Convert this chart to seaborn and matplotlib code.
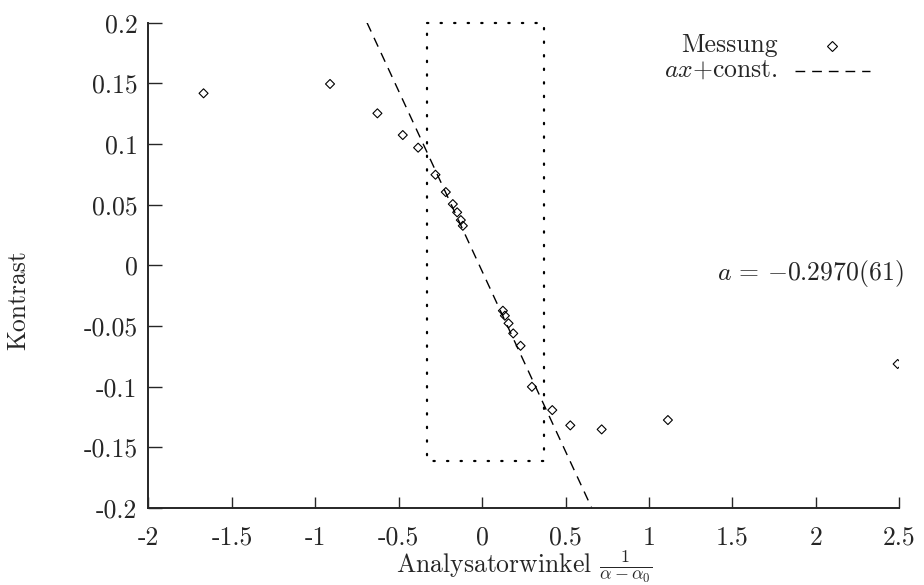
import matplotlib
matplotlib.use("Agg")
import numpy as np
import pandas as pd
import matplotlib.pyplot as plt
import seaborn as sns

x_mess = [-1.670, -0.912, -0.628, -0.476, -0.384, -0.280, -0.218, -0.176, -0.150, -0.128, -0.116,
          0.124, 0.136, 0.158, 0.186, 0.230, 0.298, 0.420, 0.528, 0.716, 1.113, 2.49]
y_mess = [0.1418, 0.1495, 0.1253, 0.1074, 0.0970, 0.0747, 0.0604, 0.0505, 0.0437, 0.0373, 0.0326,
          -0.0374, -0.0415, -0.0478, -0.0561, -0.0663, -0.1001, -0.1193, -0.1319, -0.1352, -0.1275, -0.0813]

# Fit ax + const.
fit_a = -0.2970
fit_b = -0.005

# Fitbereich (gepunktetes Rechteck)
box_x = [-0.332, 0.368, 0.368, -0.332, -0.332]
box_y = [0.2, 0.2, -0.161, -0.161, 0.2]

x_ticks = [-2, -1.5, -1, -0.5, 0, 0.5, 1, 1.5, 2, 2.5]
x_ticklabels = ["-2", "-1.5", "-1", "-0.5", "0", "0.5", "1", "1.5", "2", "2.5"]
y_ticks = [-0.2, -0.15, -0.1, -0.05, 0, 0.05, 0.1, 0.15, 0.2]
y_ticklabels = ["-0.2", "-0.15", "-0.1", "-0.05", "0", "0.05", "0.1", "0.15", "0.2"]

sns.set_style("ticks")
plt.rcParams["font.family"] = "serif"
plt.rcParams["font.serif"] = ["cmr10", "DejaVu Serif"]
plt.rcParams["mathtext.fontset"] = "cm"
plt.rcParams["axes.unicode_minus"] = False
plt.rcParams["font.size"] = 18.5

df = pd.DataFrame({"x": x_mess, "y": y_mess})

fig = plt.figure(figsize=(9.24, 5.85), dpi=100)
ax = fig.add_axes([0.1607, 0.1316, 0.8126, 0.8296])

sns.scatterplot(data=df, x="x", y="y", ax=ax, marker="D", s=21,
                facecolor="none", edgecolor="black", linewidth=0.8, zorder=3)
ax.axline((0, fit_b), slope=fit_a, color="black", lw=1.0, linestyle=(0, (7, 5)))
ax.plot(box_x, box_y, color="black", lw=1.6, linestyle=(0, (0.6, 5.5)),
        dash_capstyle="round", clip_on=False)

ax.set_xlim(-2, 2.5)
ax.set_ylim(-0.2, 0.2)
ax.set_xticks(x_ticks)
ax.set_xticklabels(x_ticklabels)
ax.set_yticks(y_ticks)
ax.set_yticklabels(y_ticklabels)
ax.tick_params(axis="x", direction="in", length=8, width=1.0, pad=13)
ax.tick_params(axis="y", direction="in", length=10, width=1.0, pad=8)
sns.despine(ax=ax)
for s in ["left", "bottom"]:
    ax.spines[s].set_linewidth(1.4)

ax.set_xlabel(r"Analysatorwinkel $\frac{1}{\alpha-\alpha_0}$")
ax.xaxis.set_label_coords(0.5, -0.084)
ax.set_ylabel("Kontrast")
ax.yaxis.set_label_coords(-0.157, 0.4286)

# Legende im gnuplot-Stil
ax.text(0.838, 0.954, "Messung", transform=ax.transAxes, ha="right", va="center")
ax.plot([0.910], [0.952], marker="D", ms=4.6, mfc="none", mec="black", mew=0.8,
        transform=ax.transAxes, clip_on=False)
ax.text(0.838, 0.9025, r"$ax$+const.", transform=ax.transAxes, ha="right", va="center")
ax.plot([0.861, 0.961], [0.901, 0.901], color="black", lw=1.0, linestyle=(0, (7, 5)),
        transform=ax.transAxes, clip_on=False)

ax.text(1.005, 0.484, r"$a\,=\,{-}0.2970(61)$", transform=ax.transAxes, ha="right", va="center")

fig.savefig("out.png", dpi=100)
